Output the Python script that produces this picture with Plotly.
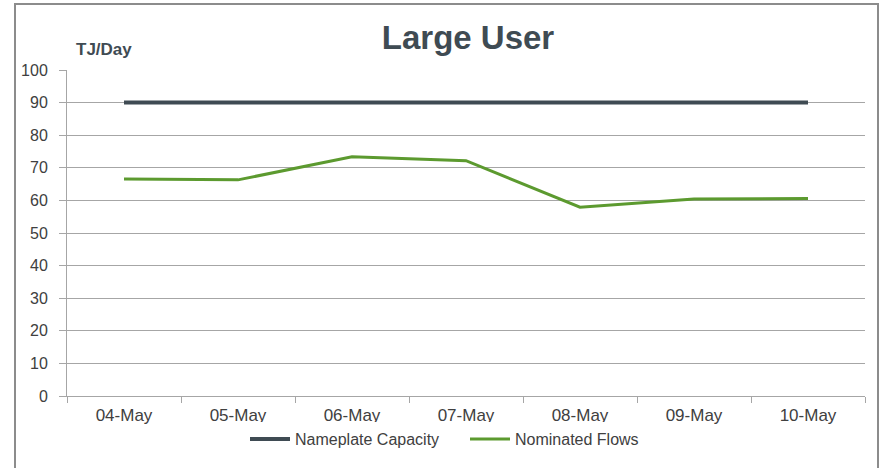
import plotly.graph_objects as go

dates = ["04-May", "05-May", "06-May", "07-May", "08-May", "09-May", "10-May"]
nameplate_capacity = [90, 90, 90, 90, 90, 90, 90]
nominated_flows = [66.6, 66.3, 73.4, 72.2, 57.9, 60.4, 60.6]
y_ticks = [0, 10, 20, 30, 40, 50, 60, 70, 80, 90, 100]

DARK = "#3F4B53"
GREEN = "#5C9A2F"
FONT = "Liberation Sans Narrow, Arial Narrow, Liberation Sans, Arial"

fig = go.Figure()
fig.add_trace(go.Scatter(x=dates, y=nameplate_capacity, mode="lines",
                         name="Nameplate Capacity",
                         line=dict(color=DARK, width=4)))
fig.add_trace(go.Scatter(x=dates, y=nominated_flows, mode="lines",
                         name="Nominated Flows",
                         line=dict(color=GREEN, width=3)))

L, R, T, B = 67, 18, 70, 72
W, H = 883, 468
pw, ph = W - L - R, H - T - B

def px(x):
    return (x - L) / pw

def py(y):
    return (H - B - y) / ph

fig.update_layout(
    width=W, height=H,
    margin=dict(l=L, r=R, t=T, b=B),
    paper_bgcolor="white", plot_bgcolor="white",
    title=dict(text="<b>Large User</b>", x=468 / W, xanchor="center",
               y=1 - 37 / H, yanchor="middle",
               font=dict(family="Liberation Sans, Arial", size=33, color=DARK)),
    showlegend=True,
    legend=dict(orientation="h", x=px(245), xanchor="left", y=py(439), yanchor="middle",
                font=dict(family=FONT, size=16, color="#404040"),
                itemwidth=40, tracegroupgap=0, entrywidth=165, entrywidthmode="pixels"),
    xaxis=dict(type="category", showgrid=False, showline=True, linecolor="#A6A6A6",
               linewidth=1, ticks="outside", tickson="boundaries", ticklen=6,
               tickcolor="#A6A6A6", ticklabelstandoff=4,
               tickfont=dict(family=FONT, size=17, color="#404040"),
               range=[-0.5, 6.5]),
    yaxis=dict(range=[0, 100], tickvals=y_ticks, showgrid=True, gridcolor="#A6A6A6",
               gridwidth=1, showline=True, linecolor="#A6A6A6", linewidth=1,
               ticks="outside", ticklen=7, tickcolor="#A6A6A6", zeroline=False,
               ticklabelstandoff=8,
               tickfont=dict(family="Liberation Sans, Arial", size=16, color="#404040")),
    annotations=[dict(text="<b>TJ/Day</b>", xref="paper", yref="paper",
                      x=px(74), y=py(50), xanchor="left", yanchor="middle",
                      showarrow=False,
                      font=dict(family="Liberation Sans, Arial", size=17, color=DARK))],
    shapes=[dict(type="rect", xref="paper", yref="paper",
                 x0=px(15), x1=px(878), y0=py(475), y1=py(4),
                 line=dict(color="#8C8C8C", width=2), layer="below")],
)

fig.write_html("out.html", config={"displayModeBar": False},
               post_script="document.body.style.margin='0';document.body.style.overflow='hidden';")
